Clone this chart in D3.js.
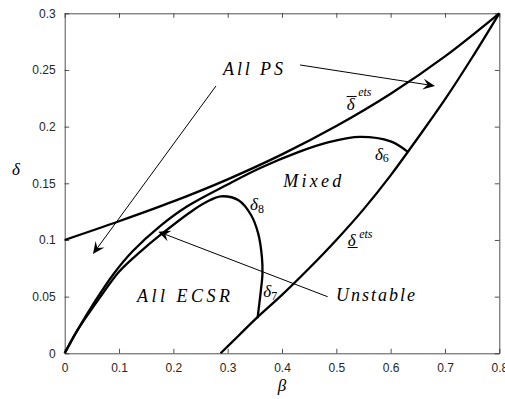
<!DOCTYPE html>
<html>
<head>
<meta charset="utf-8">
<script src="https://cdn.jsdelivr.net/npm/d3@7"></script>
<style>
    body { margin: 0; background: #fff; }
    #wrapper { width: 505px; height: 399px; }
</style>
</head>
<body>
<div id="wrapper"></div>
<script>

// axis ticks
const betaTicks = [0, 0.1, 0.2, 0.3, 0.4, 0.5, 0.6, 0.7, 0.8]
const betaTickLabels = ["0", "0.1", "0.2", "0.3", "0.4", "0.5", "0.6", "0.7", "0.8"]
const deltaTicks = [0, 0.05, 0.1, 0.15, 0.2, 0.25, 0.3]
const deltaTickLabels = ["0", "0.05", "0.1", "0.15", "0.2", "0.25", "0.3"]

// upper threshold (delta bar ets)
const upperEtsBeta  = [0, 0.1, 0.2, 0.3, 0.4, 0.5, 0.6, 0.7, 0.8]
const upperEtsDelta = [0.1, 0.1165, 0.134, 0.1535, 0.1755, 0.2005, 0.229, 0.262, 0.3]

// lower threshold (delta underline ets)
const lowerEtsBeta  = [0.287, 0.32, 0.353, 0.4, 0.45, 0.5, 0.55, 0.6, 0.65, 0.7, 0.75, 0.8]
const lowerEtsDelta = [0, 0.0155, 0.031, 0.0515, 0.075, 0.1, 0.127, 0.157, 0.19, 0.224, 0.261, 0.3]

// outer curve from origin, ends in delta6 hump
const outerBeta  = [0, 0.023, 0.056, 0.09, 0.125, 0.175, 0.225, 0.3, 0.36, 0.43, 0.488, 0.543, 0.6, 0.631]
const outerDelta = [0, 0.02, 0.046, 0.07, 0.09, 0.112, 0.1295, 0.149, 0.1635, 0.1775, 0.1865, 0.191, 0.187, 0.178]

// inner curve from origin, turns into delta8 / delta7
const innerBeta  = [0, 0.023, 0.066, 0.1, 0.14, 0.175, 0.237, 0.267, 0.288, 0.32, 0.343, 0.356, 0.363, 0.364, 0.361, 0.355]
const innerDelta = [0, 0.02, 0.05, 0.072, 0.09, 0.104, 0.1265, 0.135, 0.1385, 0.135, 0.122, 0.106, 0.085, 0.07, 0.055, 0.031]

function drawChart() {

    let dimensions = {
        width: 505,
        height: 399,
        margin: {
            top: 13.3,
            right: 5.7,
            bottom: 45.7,
            left: 64.7,
        },
    }
    dimensions.boundedWidth = dimensions.width - dimensions.margin.left - dimensions.margin.right
    dimensions.boundedHeight = dimensions.height - dimensions.margin.top - dimensions.margin.bottom

    const axisColor = "#262626"
    const mathFont = "Liberation Serif, Times New Roman, serif"
    const tickFont = "Liberation Sans, Arial, sans-serif"

    const svg = d3.select("#wrapper")
        .append("svg")
            .attr("width", dimensions.width)
            .attr("height", dimensions.height)
            .style("background", "#fff")

    const x = d3.scaleLinear()
        .domain([0, 0.8])
        .range([dimensions.margin.left, dimensions.margin.left + dimensions.boundedWidth])

    const y = d3.scaleLinear()
        .domain([0, 0.3])
        .range([dimensions.margin.top + dimensions.boundedHeight, dimensions.margin.top])

    // axes, matlab style: inward ticks, box on
    const tickLen = 4.5

    svg.append("g")
        .attr("transform", `translate(0,${y(0)})`)
        .call(d3.axisBottom(x)
            .tickValues(betaTicks)
            .tickFormat((d, i) => betaTickLabels[i])
            .tickSize(-tickLen)
            .tickSizeOuter(0)
            .tickPadding(10))

    svg.append("g")
        .attr("transform", `translate(0,${y(0.3)})`)
        .call(d3.axisTop(x)
            .tickValues(betaTicks)
            .tickFormat("")
            .tickSize(-tickLen)
            .tickSizeOuter(0))

    svg.append("g")
        .attr("transform", `translate(${x(0)},0)`)
        .call(d3.axisLeft(y)
            .tickValues(deltaTicks)
            .tickFormat((d, i) => deltaTickLabels[i])
            .tickSize(-tickLen)
            .tickSizeOuter(0)
            .tickPadding(9))

    svg.append("g")
        .attr("transform", `translate(${x(0.8)},0)`)
        .call(d3.axisRight(y)
            .tickValues(deltaTicks)
            .tickFormat("")
            .tickSize(-tickLen)
            .tickSizeOuter(0))

    svg.selectAll(".domain").attr("stroke", axisColor).attr("stroke-width", 0.8)
    svg.selectAll(".tick line").attr("stroke", axisColor).attr("stroke-width", 0.8)
    svg.selectAll(".tick text")
        .attr("fill", axisColor)
        .attr("font-family", tickFont)
        .attr("font-size", 12)

    // curves
    const line = d3.line()
        .x(d => x(d[0]))
        .y(d => y(d[1]))
        .curve(d3.curveCatmullRom.alpha(0.5))

    const curves = [
        d3.zip(upperEtsBeta, upperEtsDelta),
        d3.zip(lowerEtsBeta, lowerEtsDelta),
        d3.zip(outerBeta, outerDelta),
        d3.zip(innerBeta, innerDelta),
    ]

    svg.append("g").selectAll("path")
        .data(curves)
        .join("path")
        .attr("d", line)
        .attr("fill", "none")
        .attr("stroke", "#000")
        .attr("stroke-width", 2.3)
        .attr("stroke-linejoin", "round")

    // annotation arrows
    const arrows = svg.append("g")

    function drawArrow(b1, d1, b2, d2) {
        const x1 = x(b1), y1 = y(d1), x2 = x(b2), y2 = y(d2)
        const ang = Math.atan2(y2 - y1, x2 - x1)
        const L = 12, W = 5.5, notch = 4.5
        const rot = (u, v) => [x2 + u * Math.cos(ang) - v * Math.sin(ang), y2 + u * Math.sin(ang) + v * Math.cos(ang)]
        const tail = rot(-L + notch, 0)
        arrows.append("line")
            .attr("x1", x1).attr("y1", y1)
            .attr("x2", tail[0]).attr("y2", tail[1])
            .attr("stroke", "#000")
            .attr("stroke-width", 1)
        arrows.append("path")
            .attr("d", "M" + [rot(0, 0), rot(-L, W), rot(-L + notch, 0), rot(-L, -W)].join("L") + "Z")
            .attr("fill", "#000")
    }

    drawArrow(0.2785, 0.2359, 0.052, 0.0876)
    drawArrow(0.4333, 0.2544, 0.6816, 0.2359)
    drawArrow(0.4841, 0.0499, 0.1723, 0.1073)

    // region labels
    const labels = svg.append("g")
        .attr("font-family", mathFont)
        .attr("font-style", "italic")
        .attr("fill", "#000")

    function regionLabel(text, b, d, len) {
        labels.append("text")
            .attr("x", x(b))
            .attr("y", y(d))
            .attr("textLength", len)
            .attr("lengthAdjust", "spacing")
            .attr("font-size", 18)
            .text(text)
    }

    regionLabel("All PS", 0.2914, 0.2456, 60)
    regionLabel("Mixed", 0.4024, 0.147, 58)
    regionLabel("All ECSR", 0.133, 0.0455, 93)
    regionLabel("Unstable", 0.4994, 0.0461, 79)

    // threshold labels
    function deltaLabel(b, d, sub, subDy) {
        const t = labels.append("text")
            .attr("x", x(b))
            .attr("y", y(d))
            .attr("font-size", 17)
        t.append("tspan").text("δ")
        t.append("tspan")
            .attr("dy", subDy)
            .attr("font-size", 12)
            .attr("font-style", "normal")
            .text(sub)
    }

    deltaLabel(0.3411, 0.1265, "8", 3)
    deltaLabel(0.3655, 0.0499, "7", 3)
    deltaLabel(0.5711, 0.1706, "6", 2)

    function etsLabel(b, d, over) {
        const x0 = x(b), y0 = y(d)
        const t = labels.append("text")
            .attr("x", x0)
            .attr("y", y0)
            .attr("font-size", 17)
        t.append("tspan").text("δ")
        t.append("tspan")
            .attr("x", x0 + 11.5)
            .attr("dy", over ? -13.5 : -7.5)
            .attr("font-size", 12)
            .text("ets")
        labels.append("line")
            .attr("x1", x0)
            .attr("x2", x0 + 10)
            .attr("y1", over ? y0 - 13.5 : y0 + 2)
            .attr("y2", over ? y0 - 13.5 : y0 + 2)
            .attr("stroke", "#000")
            .attr("stroke-width", 1)
    }

    etsLabel(0.519, 0.2147, true)
    etsLabel(0.5209, 0.0951, false)

    // axis labels
    labels.append("text")
        .attr("x", 16)
        .attr("y", 175)
        .attr("text-anchor", "middle")
        .attr("font-size", 17)
        .text("δ")

    labels.append("text")
        .attr("x", (x(0) + x(0.8)) / 2)
        .attr("y", 391)
        .attr("text-anchor", "middle")
        .attr("font-size", 17)
        .text("β")
}

drawChart()
</script>
</body>
</html>
